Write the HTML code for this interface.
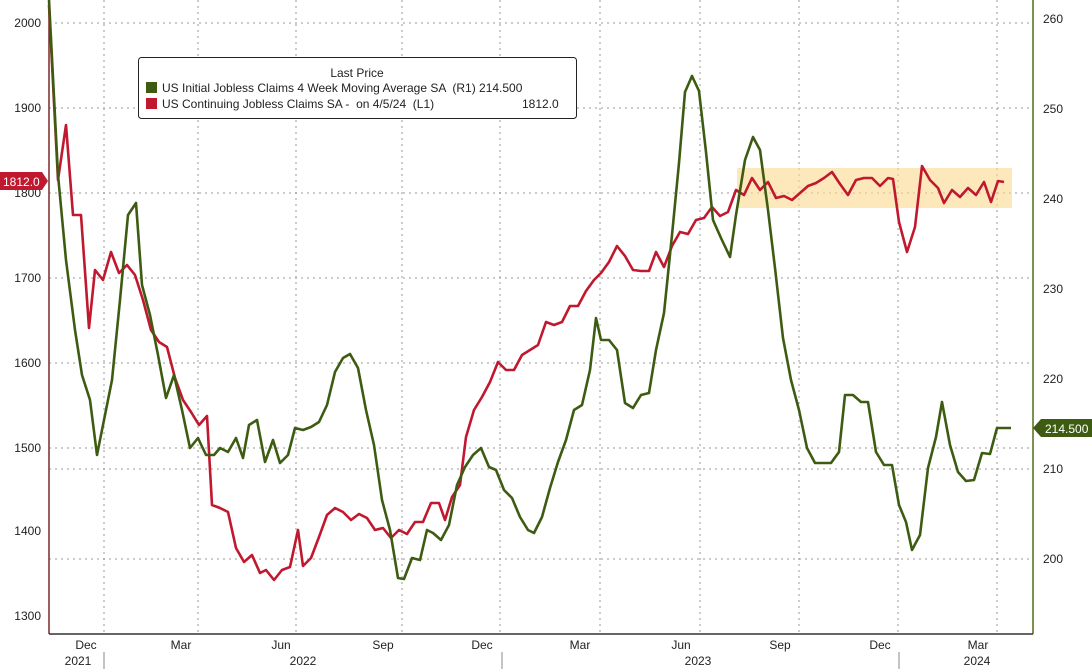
<!DOCTYPE html>
<html><head><meta charset="utf-8"><style>
body{margin:0;background:#fff;}
svg{display:block;font-family:"Liberation Sans",sans-serif;}
</style></head><body>
<svg width="1092" height="669" viewBox="0 0 1092 669">
<rect width="1092" height="669" fill="#fff"/>
<g stroke="#999" stroke-width="1" stroke-dasharray="2,4">
<line x1="49" x2="1033" y1="23" y2="23"/><line x1="49" x2="1033" y1="108" y2="108"/>
<line x1="49" x2="1033" y1="193" y2="193"/><line x1="49" x2="1033" y1="278" y2="278"/>
<line x1="49" x2="1033" y1="363" y2="363"/><line x1="49" x2="1033" y1="448" y2="448"/>
<line x1="49" x2="1033" y1="469" y2="469"/><line x1="49" x2="1033" y1="559" y2="559"/>
<line x1="104" x2="104" y1="0" y2="634"/><line x1="198" x2="198" y1="0" y2="634"/>
<line x1="296" x2="296" y1="0" y2="634"/><line x1="402" x2="402" y1="0" y2="634"/>
<line x1="500" x2="500" y1="0" y2="634"/><line x1="600" x2="600" y1="0" y2="634"/>
<line x1="700" x2="700" y1="0" y2="634"/><line x1="799" x2="799" y1="0" y2="634"/>
<line x1="898" x2="898" y1="0" y2="634"/><line x1="997" x2="997" y1="0" y2="634"/>
</g>
<rect x="737" y="168" width="275" height="40" fill="#fbd98e" opacity="0.6"/>
<line x1="49" y1="0" x2="49" y2="634" stroke="#7a2a2a" stroke-width="1.5"/>
<line x1="1033" y1="0" x2="1033" y2="634" stroke="#556b1a" stroke-width="1.5"/>
<line x1="49" y1="634" x2="1033" y2="634" stroke="#333" stroke-width="1.5"/>
<g font-size="12" fill="#222" text-anchor="end">
<text x="41" y="27">2000</text><text x="41" y="112">1900</text><text x="41" y="197">1800</text>
<text x="41" y="282">1700</text><text x="41" y="367">1600</text><text x="41" y="452">1500</text>
<text x="41" y="535">1400</text><text x="41" y="620">1300</text>
</g>
<g font-size="12" fill="#222">
<text x="1043" y="23">260</text><text x="1043" y="113">250</text><text x="1043" y="203">240</text>
<text x="1043" y="293">230</text><text x="1043" y="383">220</text><text x="1043" y="473">210</text>
<text x="1043" y="563">200</text>
</g>
<g font-size="12" fill="#222" text-anchor="middle">
<text x="86" y="649">Dec</text><text x="181" y="649">Mar</text><text x="281" y="649">Jun</text>
<text x="383" y="649">Sep</text><text x="482" y="649">Dec</text><text x="580" y="649">Mar</text>
<text x="681" y="649">Jun</text><text x="780" y="649">Sep</text><text x="880" y="649">Dec</text>
<text x="978" y="649">Mar</text>
<text x="78" y="665">2021</text><text x="303" y="665">2022</text><text x="698" y="665">2023</text><text x="977" y="665">2024</text>
</g>
<g stroke="#888"><line x1="104" y1="652" x2="104" y2="669"/><line x1="502" y1="652" x2="502" y2="669"/><line x1="899" y1="652" x2="899" y2="669"/></g>
<polyline fill="none" stroke="#c0182f" stroke-width="2.6" stroke-linejoin="round" points="49,5 58,180 66,125 73,215 81,215 89,328 95,270 103,280 111,252 119,273 127,265 135,275 143,300 151,330 159,342 167,347 175,378 183,400 191,412 199,425 207,416 212,505 220,508 228,512 236,548 244,562 252,555 260,573 266,570 274,580 282,570 290,567 298,530 303,566 311,558 319,537 327,515 335,508 343,512 351,520 359,514 367,518 375,530 383,528 391,538 399,530 407,534 415,522 423,522 431,503 439,503 445,520 452,497 460,485 466,437 474,410 482,397 490,382 498,362 506,370 514,370 522,355 530,350 538,345 546,322 554,325 562,322 570,306 578,306 586,291 594,280 601,273 609,262 617,246 625,256 633,270 641,271 649,271 656,252 664,267 672,246 680,232 688,234 696,220 704,218 712,207 720,216 728,212 736,190 744,195 752,178 760,190 768,182 776,198 784,196 792,200 800,193 808,186 816,183 824,178 832,172 840,184 848,195 856,180 864,178 872,178 880,186 888,178 893,179 899,222 907,252 915,227 922,166 930,180 938,188 944,203 952,190 960,197 968,188 976,195 984,182 991,202 998,181 1004,182"/>
<polyline fill="none" stroke="#3d5c12" stroke-width="2.6" stroke-linejoin="round" points="49,0 58,175 66,260 75,330 82,375 90,400 97,455 104,420 112,380 120,300 128,215 136,203 142,285 150,315 158,355 166,398 174,375 182,410 190,448 198,438 206,455 214,455 220,448 228,452 236,438 243,458 249,425 257,420 265,462 273,440 280,463 288,455 295,428 303,430 311,427 319,422 327,405 335,372 343,358 350,354 358,368 366,410 374,445 382,500 390,530 398,578 404,579 412,558 420,560 427,530 433,533 441,540 449,525 457,485 465,467 473,455 481,448 489,467 496,470 504,490 512,498 520,517 528,530 534,533 542,517 550,488 558,462 566,440 574,410 582,405 590,370 596,318 601,340 609,340 617,350 625,403 633,408 641,395 649,393 656,350 664,313 672,235 679,163 685,92 692,76 699,91 706,152 713,220 721,238 730,257 736,215 745,160 753,137 760,150 768,210 775,268 783,338 791,380 799,410 807,448 815,463 823,463 831,463 839,452 845,395 853,395 861,402 868,402 876,452 884,465 892,465 899,505 906,522 912,550 920,535 928,468 936,437 942,402 950,445 958,472 966,481 974,480 982,453 990,454 997,428 1011,428"/>
<path d="M0,172 H42 L48,181 L42,190 H0 Z" fill="#c0182f"/>
<text x="3" y="186" font-size="12" fill="#fff">1812.0</text>
<path d="M1033,428 L1041,419 H1092 V437 H1041 Z" fill="#3d5c12"/>
<text x="1045" y="433" font-size="12" fill="#fff">214.500</text>
<rect x="138.5" y="57.5" width="438" height="61" rx="3" fill="#fff" stroke="#222"/>
<text x="357" y="77" font-size="12" fill="#222" text-anchor="middle">Last Price</text>
<rect x="146" y="82" width="11" height="11" fill="#3d5c12"/>
<rect x="146" y="98" width="11" height="11" fill="#c0182f"/>
<text x="162" y="92" font-size="12" fill="#222" xml:space="preserve">US Initial Jobless Claims 4 Week Moving Average SA  (R1) 214.500</text>
<text x="162" y="108" font-size="12" fill="#222" xml:space="preserve">US Continuing Jobless Claims SA -  on 4/5/24  (L1)</text>
<text x="522" y="108" font-size="12" fill="#222">1812.0</text>
</svg>
</body></html>
